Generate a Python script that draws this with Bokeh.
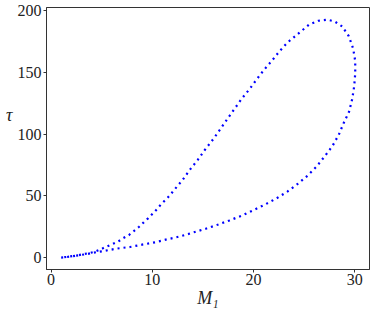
from bokeh.plotting import figure
from bokeh.models import Range1d, FixedTicker
from bokeh.embed import file_html
from bokeh.resources import INLINE

# Data (path around the loop)
M1 = [1.0, 1.5, 2.0, 2.5, 3.1, 3.9, 4.4, 4.85, 5.4, 6.0, 6.6, 7.1, 7.7, 8.2, 8.7,
      9.15, 9.6, 10.1, 10.5, 10.9, 11.4, 11.8, 12.2, 13.0, 13.7, 14.5, 15.2, 16.0,
      16.7, 17.4, 18.1, 18.8, 19.6, 20.3, 21.0, 21.8, 22.5, 23.3, 24.0, 24.8, 25.5,
      26.4, 27.3, 28.0, 28.75, 29.4, 29.84, 30.04, 30.04, 29.94, 29.74, 29.44, 28.91,
      28.42, 27.79, 27.03, 26.24, 25.35, 24.36, 23.34, 22.25, 21.13, 20.0, 18.81,
      17.62, 16.44, 15.29, 14.1, 13.2, 12.2, 11.5, 10.3, 9.0, 7.8, 6.5, 5.25, 4.6,
      3.5, 2.5, 1.5, 1.0]
tau = [0.0, 0.4, 1.0, 1.6, 2.6, 3.9, 5.0, 6.5, 8.6, 10.7, 12.9, 15.6, 18.3, 21.6,
       25.0, 28.5, 32.0, 36.1, 39.6, 43.6, 47.4, 51.1, 55.2, 63.0, 71.1, 79.3, 87.4,
       95.8, 103.9, 112.2, 120.3, 128.4, 136.5, 144.3, 151.8, 159.4, 166.6, 173.9,
       178.7, 184.1, 188.9, 191.9, 192.7, 191.4, 187.3, 179.5, 169.3, 159.3, 149.1,
       138.9, 128.4, 118.4, 109.2, 99.6, 90.4, 82.1, 74.0, 66.5, 59.7, 53.5, 47.9,
       43.0, 38.5, 33.9, 30.1, 26.6, 23.4, 20.5, 18.2, 16.1, 14.9, 12.4, 10.5, 8.6,
       7.3, 5.4, 4.6, 2.8, 1.6, 0.5, 0.0]

x_ticks = [0, 10, 20, 30]
y_ticks = [0, 50, 100, 150, 200]

FONT = "Liberation Serif"
AX = "#333333"
TXT = "#222222"

p = figure(width=372, height=310, output_backend="svg", toolbar_location=None,
           title=None,
           x_range=Range1d(-0.45, 31.45), y_range=Range1d(-9.65, 202.65),
           min_border_left=46, min_border_right=3, min_border_top=7,
           min_border_bottom=41)

p.line(M1, tau, line_color="#0000ff", line_width=2.2, line_dash="2 4",
       line_cap="butt")

p.xgrid.visible = False
p.ygrid.visible = False
p.outline_line_color = AX
p.outline_line_width = 1
p.background_fill_color = "white"
p.border_fill_color = "white"

p.xaxis.ticker = FixedTicker(ticks=x_ticks)
p.yaxis.ticker = FixedTicker(ticks=y_ticks)
for ax in (p.xaxis, p.yaxis):
    ax.axis_line_color = AX
    ax.major_tick_line_color = AX
    ax.major_tick_out = 3
    ax.major_tick_in = 0
    ax.minor_tick_line_color = None
    ax.major_label_text_font = FONT
    ax.major_label_text_font_size = "16px"
    ax.major_label_text_color = TXT
    ax.axis_label_text_font = FONT
    ax.axis_label_text_font_style = "italic"
    ax.axis_label_text_font_size = "18px"
    ax.axis_label_text_color = TXT

p.xaxis.major_label_standoff = 1
p.xaxis.axis_label = "M\u2081"
p.xaxis.axis_label_standoff = 0

p.yaxis.major_label_standoff = 2
p.yaxis.axis_label = "\u03c4\n\n"
p.yaxis.axis_label_orientation = "horizontal"
p.yaxis.axis_label_standoff = 2

open("out.html", "w").write(file_html(p, INLINE))
